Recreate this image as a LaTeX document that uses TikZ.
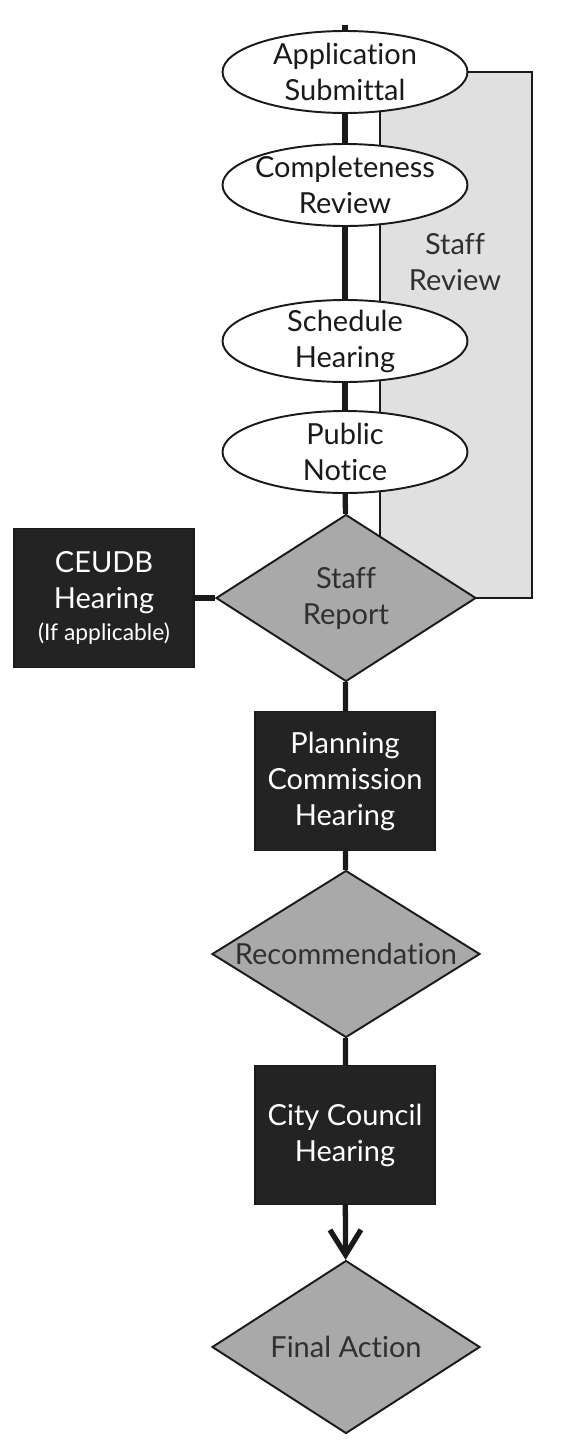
\documentclass[tikz,border=0pt]{standalone}
\usepackage{fontspec}
\setmainfont{Lato}[Ligatures={NoCommon,NoRequired,NoContextual}]
\usepackage{xcolor}
\usepackage{tikz}
\usetikzlibrary{positioning,shapes,arrows.meta}
\definecolor{ink}{HTML}{1A1A1A}
\definecolor{boxdark}{HTML}{232323}
\definecolor{decide}{HTML}{A9A9A9}
\definecolor{bandfill}{HTML}{E0E0E0}
\definecolor{textgray}{HTML}{303030}
\tikzset{
    oval/.style={ellipse, draw=ink, line width=1.1pt, fill=white, minimum width=4.9cm, minimum height=1.64cm, inner sep=-4pt, align=center, font=\fontsize{16.5}{20.5}\selectfont, text=ink},
    darkbox/.style={rectangle, draw=ink, line width=0.8pt, fill=boxdark, minimum width=3.6cm, minimum height=2.78cm, align=center, font=\fontsize{16.5}{20.5}\selectfont, text=white},
    decision/.style={diamond, draw=ink, line width=1.1pt, fill=decide, aspect=1.6, inner sep=0pt, align=center, font=\fontsize{16.5}{20.5}\selectfont, text=textgray},
    bandbox/.style={rectangle, draw=ink, line width=1.1pt, fill=bandfill},
    flow/.style={line width=3pt, color=ink},
    arrow/.style={flow, -{Straight Barb[length=0.5cm, width=0.62cm]}}
}
\begin{document}
\begin{tikzpicture}[x=0.02cm, y=-0.02cm]
\useasboundingbox (0,0) rectangle (568,1450);

% Staff review band
\node[bandbox, minimum width=3.04cm, minimum height=10.52cm] (band) at (456,335) {};
\node[font=\fontsize{16.5}{20.5}\selectfont, text=textgray, align=center] (bandtxt) at (455,262) {Staff\\Review};

% Review steps
\coordinate (top) at (345,25);
\node[oval] (app) at (345,72) {Application\\Submittal};
\node[oval] (comp) at (345,185) {Completeness\\Review};
\node[oval] (sched) at (345,341) {Schedule\\Hearing};
\node[oval] (notice) at (345,452) {Public\\Notice};

% Staff report and CEUDB
\node[decision, minimum width=5.2cm, minimum height=3.34cm] (report) at (346,598) {Staff\\Report};
\node[darkbox] (ceudb) at (104,598) {CEUDB\\Hearing\\[-2pt]{\fontsize{13}{15}\selectfont (If applicable)}};

% Hearings
\node[darkbox] (pc) at (345,781) {Planning\\Commission\\Hearing};
\node[decision, minimum width=5.36cm, minimum height=3.34cm] (rec) at (346,954) {Recommendation};
\node[darkbox] (cc) at (345,1135) {City Council\\Hearing};
\node[decision, minimum width=5.36cm, minimum height=3.46cm] (final) at (346,1347) {Final Action};

\draw[flow] (top) -- (app.north);
\draw[flow] (app) -- (comp);
\draw[flow] (comp) -- (sched);
\draw[flow] (sched) -- (notice);
\draw[flow] (notice) -- (report);
\draw[flow] (ceudb) -- (report);
\draw[flow] (report) -- (pc);
\draw[flow] (pc) -- (rec);
\draw[flow] (rec) -- (cc);
\draw[arrow] (cc) -- (final);

\end{tikzpicture}
\end{document}
